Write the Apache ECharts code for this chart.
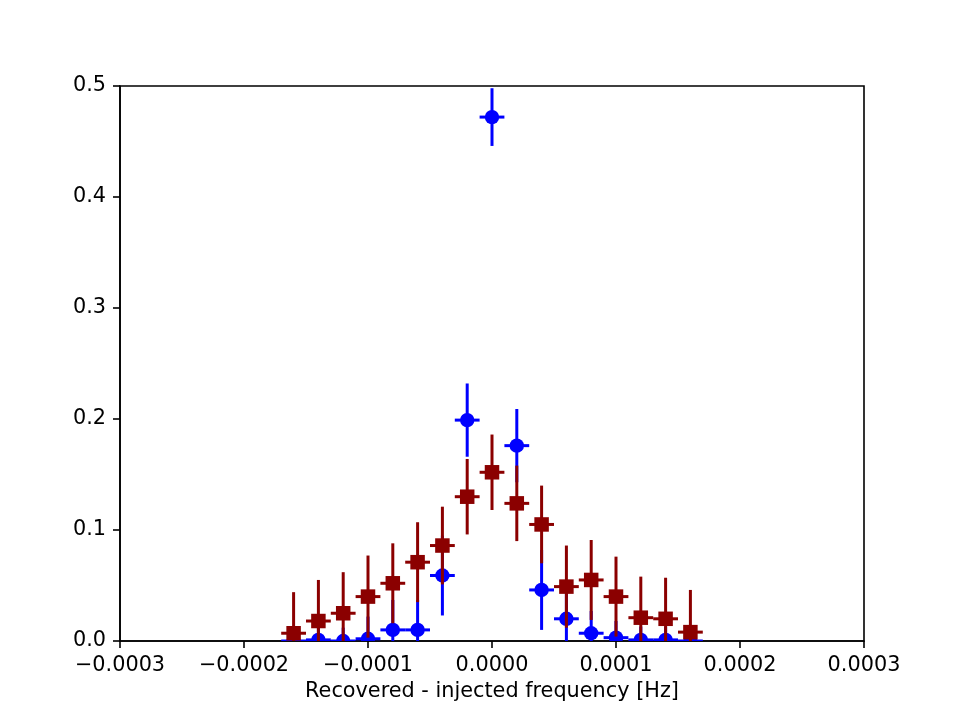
<!DOCTYPE html>
<html>
<head>
<meta charset="utf-8">
<script src="https://cdn.jsdelivr.net/npm/echarts@6/dist/echarts.min.js"></script>
<style>html,body{margin:0;padding:0;background:#fff;}#c{width:960px;height:720px;}</style>
</head>
<body>
<div id="c"></div>
<script>
// Bin centres (Hz)
var binCenters = [-0.00016, -0.00014, -0.00012, -0.0001, -0.00008, -0.00006, -0.00004, -0.00002, 0,
                  0.00002, 0.00004, 0.00006, 0.00008, 0.0001, 0.00012, 0.00014, 0.00016];
var binHalfWidth = 0.00001;
// Blue (circles) series
var blueValues = [0.000, 0.001, 0.000, 0.002, 0.010, 0.010, 0.059, 0.199, 0.472,
                  0.176, 0.046, 0.020, 0.007, 0.003, 0.001, 0.001, 0.000];
var blueErrors = [0.010, 0.015, 0.012, 0.020, 0.027, 0.027, 0.036, 0.033, 0.026,
                  0.033, 0.036, 0.030, 0.020, 0.015, 0.012, 0.012, 0.010];
// Dark red (squares) series
var redValues = [0.007, 0.018, 0.025, 0.040, 0.052, 0.071, 0.086, 0.130, 0.152,
                 0.124, 0.105, 0.049, 0.055, 0.040, 0.021, 0.020, 0.008];
var redErrors = [0.037, 0.037, 0.037, 0.037, 0.036, 0.036, 0.035, 0.034, 0.034,
                 0.034, 0.035, 0.037, 0.036, 0.036, 0.037, 0.037, 0.038];
var xTicks = [-0.0003, -0.0002, -0.0001, 0, 0.0001, 0.0002, 0.0003];
var yTicks = [0.0, 0.1, 0.2, 0.3, 0.4, 0.5];

function build(vals, errs) {
  return binCenters.map(function (x, i) { return [x, vals[i], errs[i], binHalfWidth]; });
}

function makeRender(color, shape) {
  return function (params, api) {
    var x = api.value(0), y = api.value(1), e = api.value(2), hw = api.value(3);
    var c = api.coord([x, y]);
    var top = api.coord([x, y + e]);
    var bot = api.coord([x, y - e]);
    var l = api.coord([x - hw, y]);
    var r = api.coord([x + hw, y]);
    var lw = 3;
    var s = 14.5;
    var marker;
    if (shape === 'circle') {
      marker = { type: 'circle', shape: { cx: c[0], cy: c[1], r: 7.2 }, style: { fill: color } };
    } else {
      marker = { type: 'rect', shape: { x: c[0] - s / 2, y: c[1] - s / 2, width: s, height: s }, style: { fill: color } };
    }
    return {
      type: 'group',
      children: [
        { type: 'line', shape: { x1: top[0], y1: top[1], x2: bot[0], y2: bot[1] }, style: { stroke: color, lineWidth: lw } },
        { type: 'line', shape: { x1: l[0], y1: l[1], x2: r[0], y2: r[1] }, style: { stroke: color, lineWidth: lw } },
        marker
      ]
    };
  };
}

var chart = echarts.init(document.getElementById('c'), null, { renderer: 'canvas' });
var font = 'DejaVu Sans';
var fs = 20.8;
function fmtX(v) {
  var s = Math.abs(v).toFixed(4);
  return (v < -1e-12 ? '\u2212' : '') + s;
}
chart.setOption({
  animation: false,
  backgroundColor: '#ffffff',
  grid: { left: 120, right: 96, top: 86, bottom: 79, show: true, borderColor: '#000', borderWidth: 1.6, backgroundColor: 'transparent' },
  xAxis: {
    type: 'value', min: -0.0003, max: 0.0003, interval: 0.0001,
    name: 'Recovered - injected frequency [Hz]', nameLocation: 'middle', nameGap: 40,
    nameTextStyle: { fontFamily: font, fontSize: fs, color: '#000' },
    axisLine: { show: true, onZero: false, lineStyle: { color: '#000', width: 1.6 } },
    axisTick: { show: true, inside: false, length: 7, lineStyle: { color: '#000', width: 1.6 } },
    axisLabel: { fontFamily: font, fontSize: fs, color: '#000', margin: 14, formatter: fmtX },
    splitLine: { show: false }
  },
  yAxis: {
    type: 'value', min: 0, max: 0.5, interval: 0.1,
    axisLine: { show: true, onZero: false, lineStyle: { color: '#000', width: 1.6 } },
    axisTick: { show: true, inside: false, length: 7, lineStyle: { color: '#000', width: 1.6 } },
    axisLabel: { fontFamily: font, fontSize: fs, color: '#000', margin: 14, padding: [3, 0, 0, 0], formatter: function (v) { return v.toFixed(1); } },
    splitLine: { show: false }
  },
  series: [
    { type: 'custom', name: 'blue', clip: true, data: build(blueValues, blueErrors), renderItem: makeRender('#0000ff', 'circle'), encode: { x: 0, y: 1 } },
    { type: 'custom', name: 'red', clip: true, data: build(redValues, redErrors), renderItem: makeRender('#8b0000', 'rect'), encode: { x: 0, y: 1 } }
  ]
});
</script>
</body>
</html>
